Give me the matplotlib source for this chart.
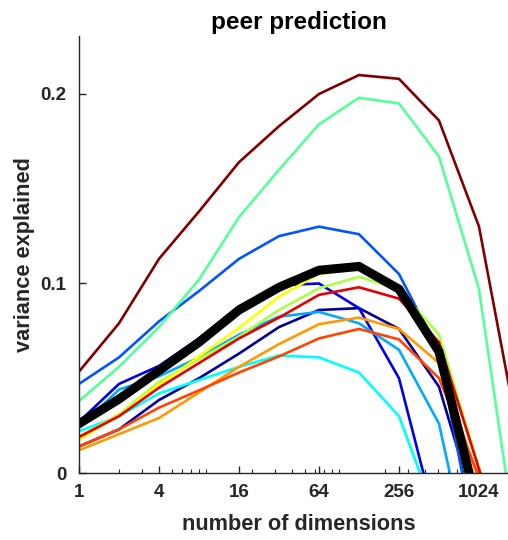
import numpy as np
import matplotlib
matplotlib.use('Agg')
import matplotlib.pyplot as plt
from matplotlib.ticker import FixedLocator, LogLocator, NullFormatter

# number of dimensions (log2 spaced)
dims = [1, 2, 4, 8, 16, 32, 64, 128, 256, 512, 1024, 2048]

# variance explained per subject
navy      = [0.014, 0.023, 0.0385, 0.050, 0.063, 0.077, 0.086, 0.087, 0.076, 0.0455, -0.025, -0.09]
blue      = [0.027, 0.047, 0.0565, 0.071, 0.088, 0.099, 0.100, 0.087, 0.050, -0.032, -0.10, -0.15]
blue2     = [0.047, 0.061, 0.080, 0.096, 0.113, 0.125, 0.130, 0.126, 0.105, 0.064, -0.047, -0.10]
azure     = [0.024, 0.044, 0.051, 0.061, 0.073, 0.0825, 0.085, 0.079, 0.065, 0.026, -0.07, -0.12]
cyan      = [0.022, 0.030, 0.042, 0.049, 0.056, 0.062, 0.061, 0.053, 0.030, -0.027, -0.09, -0.15]
spring    = [0.038, 0.056, 0.077, 0.102, 0.135, 0.160, 0.184, 0.198, 0.195, 0.167, 0.097, -0.048]
ygreen    = [0.019, 0.031, 0.048, 0.060, 0.072, 0.086, 0.0975, 0.1035, 0.097, 0.073, 0.003, -0.06]
yellow    = [0.0175, 0.0305, 0.0465, 0.0615, 0.0765, 0.093, 0.105, 0.108, 0.096, 0.062, -0.031, -0.09]
orange    = [0.012, 0.0205, 0.029, 0.0425, 0.056, 0.068, 0.0785, 0.082, 0.076, 0.058, -0.004, -0.06]
redorange = [0.014, 0.023, 0.0345, 0.0436, 0.053, 0.0615, 0.071, 0.076, 0.0705, 0.050, -0.002, -0.06]
red       = [0.019, 0.030, 0.045, 0.058, 0.071, 0.082, 0.094, 0.098, 0.092, 0.069, 0.002, -0.06]
maroon    = [0.0535, 0.079, 0.113, 0.138, 0.164, 0.183, 0.200, 0.210, 0.208, 0.186, 0.130, 0.018]
mean_line = [0.026, 0.039, 0.054, 0.069, 0.086, 0.098, 0.107, 0.109, 0.097, 0.064, -0.021, -0.08]

series = [navy, blue, blue2, azure, cyan, spring, ygreen, yellow, orange, redorange, red, maroon]
colors = ['#000099', '#0000ee', '#0055ff', '#00aaff', '#00ffff', '#55ff99',
          '#aaff44', '#ffff00', '#ff9900', '#ff4400', '#e60000', '#800000']

plt.rcParams['font.family'] = ['Liberation Sans', 'DejaVu Sans']
plt.rcParams['font.weight'] = 'bold'
plt.rcParams['axes.labelweight'] = 'bold'
plt.rcParams['axes.titleweight'] = 'bold'

ink = '#262626'

fig = plt.figure(figsize=(5.08, 5.40), dpi=100)
ax = fig.add_axes([79/508, 1 - 473/540, (519 - 79)/508, (473 - 36)/540])

for vals, c in zip(series, colors):
    ax.plot(dims, vals, color=c, linewidth=1.9, solid_joinstyle='miter')
ax.plot(dims, mean_line, color='black', linewidth=6.5, solid_joinstyle='miter')

ax.set_xscale('log', base=2)
ax.set_xlim(1, 2048)
ax.set_ylim(0, 0.2306)

ax.xaxis.set_major_locator(FixedLocator([1, 4, 16, 64, 256, 1024]))
ax.set_xticklabels(['1', '4', '16', '64', '256', '1024'])
ax.xaxis.set_minor_locator(LogLocator(base=10, subs=np.arange(2, 10), numticks=20))
ax.xaxis.set_minor_formatter(NullFormatter())
ax.set_yticks([0, 0.1, 0.2])
ax.set_yticklabels(['0', '0.1', '0.2'])

for side in ['top', 'right']:
    ax.spines[side].set_visible(False)
for side in ['left', 'bottom']:
    ax.spines[side].set_color(ink)
    ax.spines[side].set_linewidth(1.0)

ax.tick_params(which='major', direction='in', length=5, width=1, colors=ink,
               labelsize=13.5, pad=8)
ax.tick_params(which='minor', direction='in', length=3, width=0.8, colors=ink)
ax.tick_params(axis='y', pad=9)

ax.set_title('peer prediction', fontsize=17.5, color='black', pad=5)
ax.set_xlabel('number of dimensions', fontsize=15.7, color=ink, labelpad=9)
ax.set_ylabel('variance explained', fontsize=15.7, color=ink, labelpad=4)

fig.savefig('out.png', dpi=100)
